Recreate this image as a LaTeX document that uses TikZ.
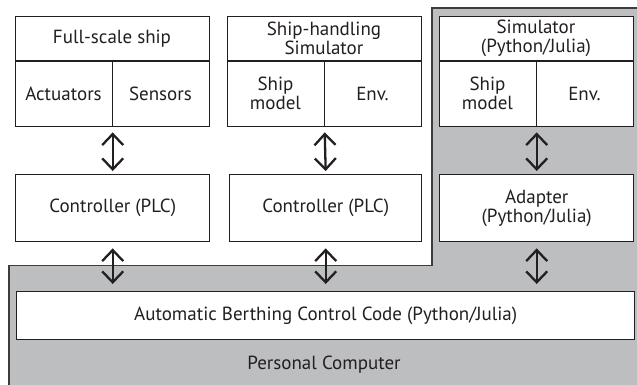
\documentclass[tikz,border=0pt]{standalone}
\usepackage{fontspec}
\setmainfont{PT Sans}
\usetikzlibrary{arrows.meta}
\definecolor{pcgray}{HTML}{BCBEC0}
\definecolor{ink}{HTML}{231F20}
\definecolor{rim}{HTML}{3C3C3E}
\begin{document}
\begin{tikzpicture}[x=1pt,y=-1pt,
  box/.style={draw=ink, line width=1.4pt, fill=white, inner sep=0pt, anchor=north west},
  divider/.style={draw=ink, line width=1.4pt},
  lbl/.style={font=\fontsize{19}{19.5}\selectfont, align=center, text=ink, inner sep=0pt},
  link/.style={draw=ink, line width=2.3pt,
    {Straight Barb[length=11pt,width=21pt]}-{Straight Barb[length=11pt,width=21pt]}}]
\clip (0,0) rectangle (637,385);

% personal computer area
\fill[pcgray] (9,400) -- (9,265.5) -- (432,265.5) -- (432,8) -- (650,8) -- (650,400) -- cycle;
\draw[rim, line width=1.6pt] (9,400) -- (9,265.5) -- (432,265.5) -- (432,8) -- (650,8);

% upper row: plant / simulators
\node[box, minimum width=194pt, minimum height=110pt] (ship1) at (15,16) {};
\node[box, minimum width=194pt, minimum height=110pt] (ship2) at (227,16) {};
\node[box, minimum width=194pt, minimum height=110pt] (ship3) at (439,16) {};
\foreach \b in {ship1,ship2,ship3}{
  \draw[divider] ([yshift=-45pt]\b.north west) -- ([yshift=-45pt]\b.north east);
  \draw[divider] ([yshift=-45pt]\b.north) -- (\b.south);
}
\node[lbl] (t1) at (112,38.5) {Full-scale ship};
\node[lbl] (a1) at (63.5,93.5) {Actuators};
\node[lbl] (s1) at (160.5,93.5) {Sensors};
\node[lbl] (t2) at (324,38.5) {Ship-handling\\Simulator};
\node[lbl] (m2) at (275.5,93.5) {Ship\\model};
\node[lbl] (e2) at (372.5,93.5) {Env.};
\node[lbl] (t3) at (536,38.5) {Simulator\\(Python/Julia)};
\node[lbl] (m3) at (487.5,93.5) {Ship\\model};
\node[lbl] (e3) at (584.5,93.5) {Env.};

% middle row: controllers and adapter
\node[box, minimum width=194pt, minimum height=67pt] (ctl1) at (15,174) {};
\node[box, minimum width=192pt, minimum height=67pt] (ctl2) at (229,174) {};
\node[box, minimum width=194pt, minimum height=67pt] (adp) at (439,174) {};
\node[lbl] at (ctl1) {Controller (PLC)};
\node[lbl] at (ctl2) {Controller (PLC)};
\node[lbl] at (adp) {Adapter\\(Python/Julia)};

% bottom: control code on the personal computer
\node[box, minimum width=618pt, minimum height=48pt] (code) at (16,291) {};
\node[lbl] at (code) {Automatic Berthing Control Code (Python/Julia)};
\node[lbl] (pc) at (324,365) {Personal Computer};

% links
\foreach \u/\l in {ship1/ctl1, ship2/ctl2, ship3/adp}{
  \draw[link] ([yshift=-5pt]\u.south) -- ([yshift=3pt]\l.north);
}
\foreach \l in {ctl1, ctl2, adp}{
  \draw[link] ([yshift=-6pt]\l.south) -- ([yshift=7pt]\l.south |- code.north);
}
\end{tikzpicture}
\end{document}
